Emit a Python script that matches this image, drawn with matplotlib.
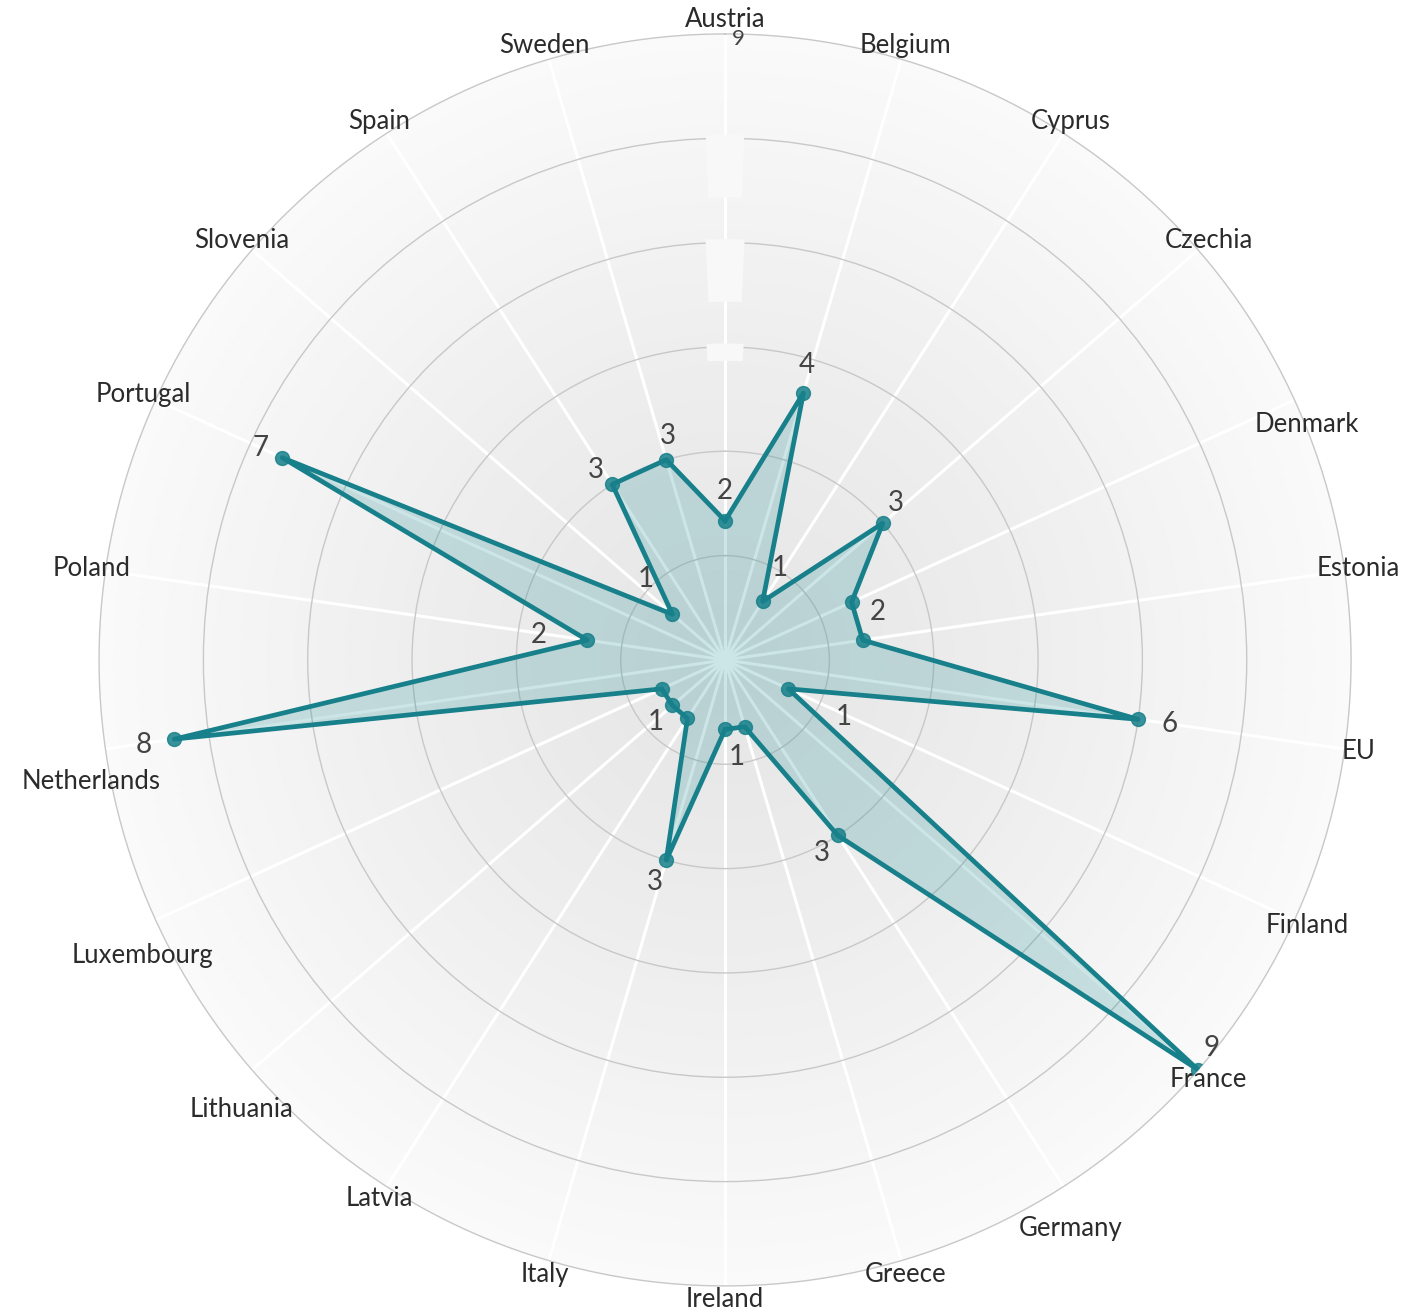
import numpy as np
import matplotlib.pyplot as plt
from matplotlib.colors import LinearSegmentedColormap

plt.rcParams['font.family'] = ['Lato', 'DejaVu Sans']

# ------------------------------------------------------------
# data
# ------------------------------------------------------------
countries = ['Austria', 'Belgium', 'Cyprus', 'Czechia', 'Denmark', 'Estonia', 'EU',
             'Finland', 'France', 'Germany', 'Greece', 'Ireland', 'Italy', 'Latvia',
             'Lithuania', 'Luxembourg', 'Netherlands', 'Poland', 'Portugal',
             'Slovenia', 'Spain', 'Sweden']
counts = [2, 4, 1, 3, 2, 2, 6, 1, 9, 3, 1, 1, 3, 1, 1, 1, 8, 2, 7, 1, 3, 3]
r_max = 9
ring_values = [1.5, 3, 4.5, 6, 7.5]

# layout: where the value labels sit (pixels from the marker); missing = no label
value_label_offsets = {
    'Austria': (0, 30), 'Belgium': (3, 28), 'Cyprus': (17, 33), 'Czechia': (13, 20),
    'Estonia': (15, 28), 'EU': (31, -5), 'Finland': (55, -28), 'France': (13, 22),
    'Germany': (-16, -18), 'Ireland': (12, -28), 'Italy': (-11, -22),
    'Lithuania': (-17, -17), 'Netherlands': (-31, -6), 'Poland': (-49, 5),
    'Portugal': (-22, 10), 'Slovenia': (-27, 35), 'Spain': (-16, 14), 'Sweden': (2, 24),
}
# some category labels sit a bit lower in the original
label_drop = {'Denmark': 30, 'Germany': 30, 'Lithuania': 30, 'Luxembourg': 30,
              'Netherlands': 30}

teal = '#17808a'

fig = plt.figure(figsize=(14.27, 13.15), dpi=100)
ax = fig.add_axes([0.0694, 0.0221, 0.8774, 0.9521], projection='polar')
ax.set_theta_zero_location('N')
ax.set_theta_direction(-1)
ax.set_ylim(0, r_max)

# radial gradient background
th = np.linspace(0, 2 * np.pi, 361)
rr = np.linspace(0, r_max, 91)
T, R = np.meshgrid(th, rr)
bg_cmap = LinearSegmentedColormap.from_list('bg', ['#e5e5e5', '#eeeeee', '#fafafa'])
ax.pcolormesh(T, R, R, cmap=bg_cmap, shading='gouraud', zorder=0)

theta = np.linspace(0, 2 * np.pi, len(countries), endpoint=False)
ax.set_xticks(theta)
ax.set_xticklabels([])
ax.set_yticks(ring_values)
ax.set_yticklabels([])
ax.tick_params(length=0)
ax.set_axisbelow('line')
ax.xaxis.grid(True, color='white', lw=2.2)
ax.yaxis.grid(True, color='#c8c8c8', lw=1.0)
ax.spines['polar'].set_color('#c8c8c8')
ax.spines['polar'].set_linewidth(1.0)

# light boxes where hidden radial tick labels break the rings
for ring, depth in [(7.5, 0.85), (6, 0.85), (4.5, 0.2)]:
    mid = ring - depth / 2
    ax.bar(0, depth + 0.05, width=36 / (mid * 69.6), bottom=ring - depth,
           color='#f8f8f8', edgecolor='none', zorder=1.7)

# polygon
theta_c = np.append(theta, theta[0])
counts_c = counts + counts[:1]
ax.fill(theta_c, counts_c, color='#1b8a8f', alpha=0.22, zorder=2)
ax.plot(theta_c, counts_c, color=teal, lw=3.4, zorder=3)
ax.plot(theta, counts, 'o', color=teal, ms=10, alpha=0.85, zorder=4)

# value labels
for t, name, v in zip(theta, countries, counts):
    if name in value_label_offsets:
        ax.annotate(str(v), xy=(t, v), xytext=value_label_offsets[name],
                    textcoords='offset pixels', ha='center', va='center',
                    fontsize=20, color='#444444', zorder=5, annotation_clip=False)

# category labels
for t, name in zip(theta, countries):
    ax.annotate(name, xy=(t, r_max * 640 / 626), xytext=(0, -label_drop.get(name, 0)),
                textcoords='offset pixels', ha='center', va='center',
                fontsize=18.5, color='#2b2b2b', annotation_clip=False)

# only visible radial tick label (partly under "Austria", as in the original)
ax.annotate('9', xy=(0, r_max), xytext=(13, -5), textcoords='offset pixels',
            ha='center', va='center', fontsize=16, color='#444444',
            annotation_clip=False)

fig.savefig('out.png', dpi=100, facecolor='white')
